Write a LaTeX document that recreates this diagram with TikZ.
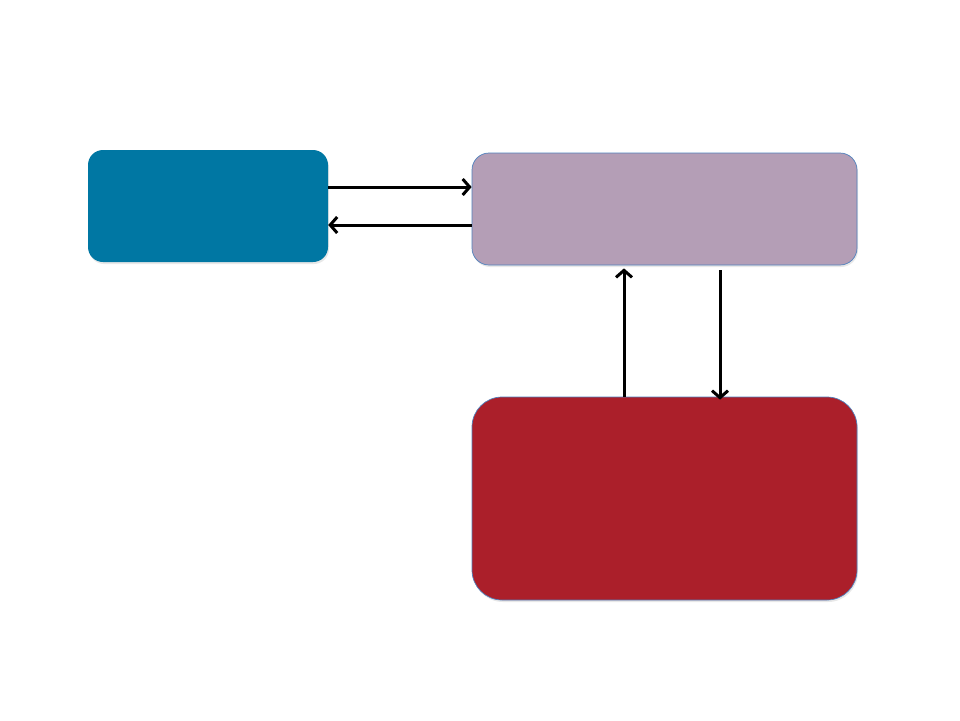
\documentclass[tikz,border=0pt]{standalone}
\usetikzlibrary{arrows.meta,shadows}
\definecolor{boxblue}{RGB}{0,119,163}
\definecolor{boxmauve}{RGB}{180,158,182}
\definecolor{boxred}{RGB}{171,31,42}
\definecolor{edgeblue}{RGB}{79,129,189}
\tikzset{
  block/.style={rectangle,inner sep=0pt,drop shadow={opacity=0.18,shadow xshift=1pt,shadow yshift=-2pt}},
  link/.style={line width=3pt,-{Straight Barb[length=7pt,width=16pt,line width=3pt]}}
}
\begin{document}
\begin{tikzpicture}[x=1pt,y=-1pt]
\useasboundingbox[fill=white] (0,0) rectangle (960,720);
\node[block,fill=boxblue,rounded corners=15pt,minimum width=240pt,minimum height=112pt] (client) at (208,206) {};
\node[block,fill=boxmauve,draw=edgeblue,line width=0.7pt,rounded corners=17pt,minimum width=385pt,minimum height=112pt] (broker) at (664.5,209) {};
\node[block,fill=boxred,draw=edgeblue,line width=0.7pt,rounded corners=30pt,minimum width=385pt,minimum height=203pt] (store) at (664.5,498.5) {};
\draw[link] ([yshift=19pt]client.east) -- ([yshift=19pt]client.east -| broker.west);
\draw[link] ([yshift=-19pt]client.east -| broker.west) -- ([yshift=-19pt]client.east);
\draw[link,shorten >=3pt] ([xshift=-40.5pt]store.north) -- ([xshift=-40.5pt]broker.south);
\draw[link,shorten <=5pt,shorten >=-3pt] ([xshift=55.5pt]broker.south) -- ([xshift=55.5pt]store.north);
\end{tikzpicture}
\end{document}
